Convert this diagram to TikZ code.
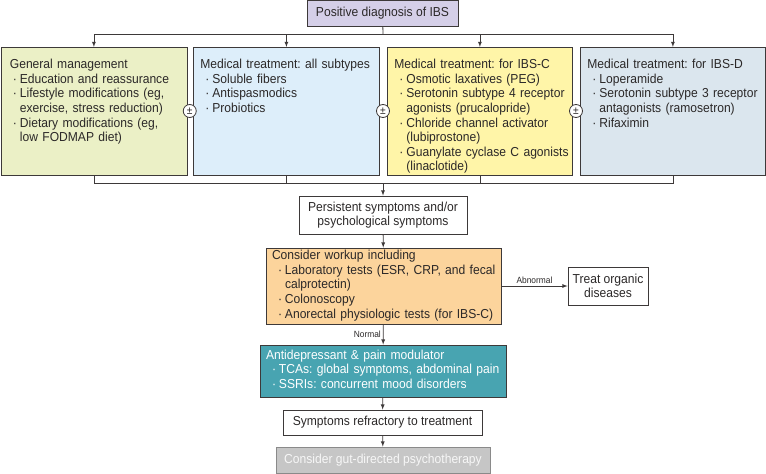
\documentclass[tikz,border=0pt]{standalone}
\usepackage{fontspec}
\setmainfont{Liberation Sans}[FakeStretch=0.93]
\frenchspacing
\definecolor{edge}{HTML}{3D3939}
\definecolor{txt}{HTML}{2B2828}
\definecolor{dxfill}{HTML}{D5CFE8}
\definecolor{gmfill}{HTML}{EBF0C6}
\definecolor{mtfill}{HTML}{DDEEFA}
\definecolor{cfill}{HTML}{FFF5A8}
\definecolor{dfill}{HTML}{DBE6EE}
\definecolor{wkfill}{HTML}{FCD49C}
\definecolor{adfill}{HTML}{48A4B1}
\definecolor{gpfill}{HTML}{C6C6C6}
\definecolor{gpedge}{HTML}{8A8A8A}
\newcommand\bl{\hspace*{6pt}\makebox[7pt][l]{·}}
\newcommand\ct{\hspace*{13pt}}
\newcommand\boxlines[2]{\parbox[t][#1][t]{150pt}{\begin{tabular}[t]{@{}l@{}}#2\end{tabular}}}
\tikzset{
	box/.style={draw=edge, line width=0.8pt, inner sep=0pt, text=txt, font=\fontsize{13}{14.6}\selectfont},
	tall/.style={box, anchor=north west, minimum width=186pt, minimum height=128pt, text width=174pt, inner xsep=6pt, inner ysep=10.5pt},
	pm/.style={circle, draw=edge, fill=white, line width=0.8pt, inner sep=0pt, minimum size=13pt, text=txt, font=\fontsize{11}{10}\selectfont},
	lbl/.style={text=txt, inner sep=2pt, font=\fontsize{9}{9}\selectfont},
	con/.style={draw=edge, line width=0.8pt},
}
\begin{document}
\begin{tikzpicture}[x=1pt, y=-1pt]
			\useasboundingbox (0,0) rectangle (766,474);
			\node (dx)[box, fill=dxfill, minimum width=151pt, minimum height=26pt] at (382.5,13) {Positive diagnosis of IBS};

			\node (gm)[tall, fill=gmfill] at (0.5,47) {\boxlines{106pt}{\hspace*{3pt}General management\\
				\bl Education and reassurance\\
				\bl Lifestyle modifications (eg,\\
				\ct exercise, stress reduction)\\
				\bl Dietary modifications (eg,\\
				\ct low FODMAP diet)}};
			\node (mt)[tall, fill=mtfill] at (193,47) {\boxlines{106pt}{\hspace*{1pt}Medical treatment: all subtypes\\
				\bl Soluble fibers\\
				\bl Antispasmodics\\
				\bl Probiotics}};
			\node (ibsc)[tall, fill=cfill, minimum width=185pt, text width=173pt] at (387,47) {\boxlines{106pt}{\hspace*{1pt}Medical treatment: for IBS-C\\
				\bl Osmotic laxatives (PEG)\\
				\bl Serotonin subtype 4 receptor\\
				\ct agonists (prucalopride)\\
				\bl Chloride channel activator\\
				\ct (lubiprostone)\\
				\bl Guanylate cyclase C agonists\\
				\ct (linaclotide)}};
			\node (ibsd)[tall, fill=dfill, minimum width=185pt, text width=173pt] at (580,47) {\boxlines{106pt}{\hspace*{1pt}Medical treatment: for IBS-D\\
				\bl Loperamide\\
				\bl Serotonin subtype 3 receptor\\
				\ct antagonists (ramosetron)\\
				\bl Rifaximin}};

			\node (pm1)[pm] at (189.75,111) {±};
			\node (pm2)[pm] at (383,111) {±};
			\node (pm3)[pm] at (576,111) {±};

			\coordinate (t) at (383,34);
			\coordinate (b) at (383,183);
			\draw [con](dx) -- (t);
			\draw [con](gm.north |- t) -- (ibsd.north |- t);
			\draw [con, -latex](gm.north |- t) -- (gm);
			\draw [con, -latex](mt.north |- t) -- (mt);
			\draw [con, -latex](ibsc.north |- t) -- (ibsc);
			\draw [con, -latex](ibsd.north |- t) -- (ibsd);
			\draw [con](gm.south) -- (gm.south |- b) -- (ibsd.south |- b) -- (ibsd.south);
			\draw [con](mt.south) -- (mt.south |- b);
			\draw [con](ibsc.south) -- (ibsc.south |- b);

			\node (ps)[box, align=center, minimum width=168pt, minimum height=38pt] at (383,215) {Persistent symptoms and/or\\psychological symptoms};
			\node (wk)[box, fill=wkfill, minimum width=235pt, text width=223pt, inner xsep=6pt, minimum height=76pt] at (383.5,286) {\begin{tabular}{@{}l@{}}Consider workup including\\
				\bl Laboratory tests (ESR, CRP, and fecal\\
				\ct calprotectin)\\
				\bl Colonoscopy\\
				\bl Anorectal physiologic tests (for IBS-C)\end{tabular}};
			\node (org)[box, align=center, minimum width=80pt, minimum height=38pt] at (608,286) {Treat organic\\diseases};
			\node (ad)[box, fill=adfill, text=white, minimum width=246pt, text width=234pt, inner xsep=6pt, minimum height=52pt] at (383,371) {\begin{tabular}{@{}l@{}}Antidepressant \& pain modulator\\
				\bl TCAs: global symptoms, abdominal pain\\
				\bl SSRIs: concurrent mood disorders\end{tabular}};
			\node (rf)[box, minimum width=199pt, minimum height=25pt] at (382.5,422.5) {Symptoms refractory to treatment};
			\node (gp)[box, draw=gpedge, fill=gpfill, text=white!94!gray, minimum width=214pt, minimum height=26pt] at (383,460) {Consider gut-directed psychotherapy};

			\draw [con, -latex](b) -- (ps);
			\draw [con, -latex](ps) -- (wk);
			\draw [con, -latex](wk) -- node[lbl, above]{Abnormal} (org);
			\draw [con, -latex](wk) -- node[lbl, left]{Normal} (ad);
			\draw [con, -latex](ad) -- (rf);
			\draw [con, -latex](rf) -- (gp);
		\end{tikzpicture}
\end{document}
